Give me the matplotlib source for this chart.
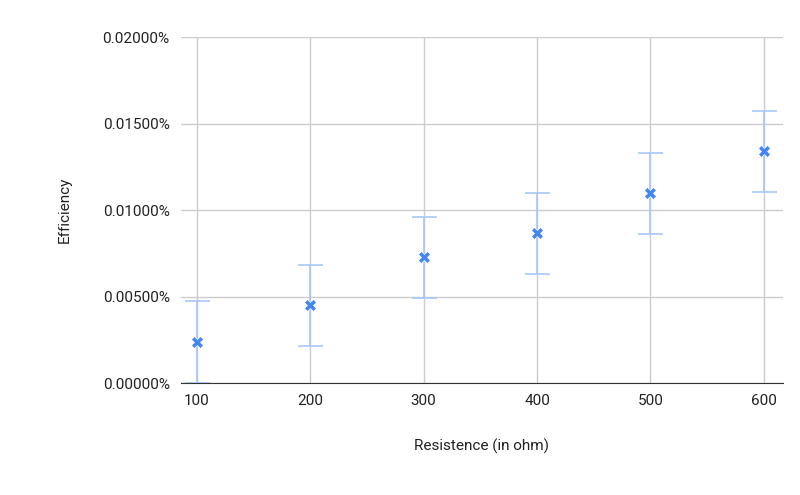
import matplotlib
matplotlib.use("Agg")
import matplotlib.pyplot as plt
from matplotlib.ticker import FuncFormatter

resistance = [100, 200, 300, 400, 500, 600]
efficiency = [0.00237, 0.00451, 0.00728, 0.00867, 0.01098, 0.01341]
err = [0.00237, 0.00234, 0.00234, 0.00234, 0.00234, 0.00234]

plt.rcParams['font.family'] = ['Roboto', 'DejaVu Sans']
fig = plt.figure(figsize=(8, 4.95), dpi=100)
ax = fig.add_axes([0.226, 0.226, 0.753, 0.699])

ax.errorbar(resistance, efficiency, yerr=err, fmt='none', ecolor='#a8c7fa',
            elinewidth=1.2, capsize=9, capthick=1.2, zorder=2)
ax.plot(resistance, efficiency, linestyle='none', marker='X', markersize=8,
        color='#4285f4', markeredgecolor='white', markeredgewidth=0.5, zorder=3)

ax.set_xlim(86, 617)
ax.set_ylim(0, 0.02)
ax.set_xticks(resistance)
ax.set_yticks([0, 0.005, 0.01, 0.015, 0.02])
ax.yaxis.set_major_formatter(FuncFormatter(lambda v, p: '%.5f%%' % v))
ax.grid(True, color='#cccccc', linewidth=1)
ax.set_axisbelow(True)
for s in ['top', 'right', 'left']:
    ax.spines[s].set_visible(False)
ax.spines['bottom'].set_color('#333333')
ax.tick_params(length=0, labelsize=11, colors='#222222', pad=8)
ax.set_xlabel('Resistence (in ohm)', fontsize=11, color='#222222', labelpad=22)
ax.set_ylabel('Efficiency', fontsize=11, color='#222222', labelpad=22)

fig.savefig('out.png')
